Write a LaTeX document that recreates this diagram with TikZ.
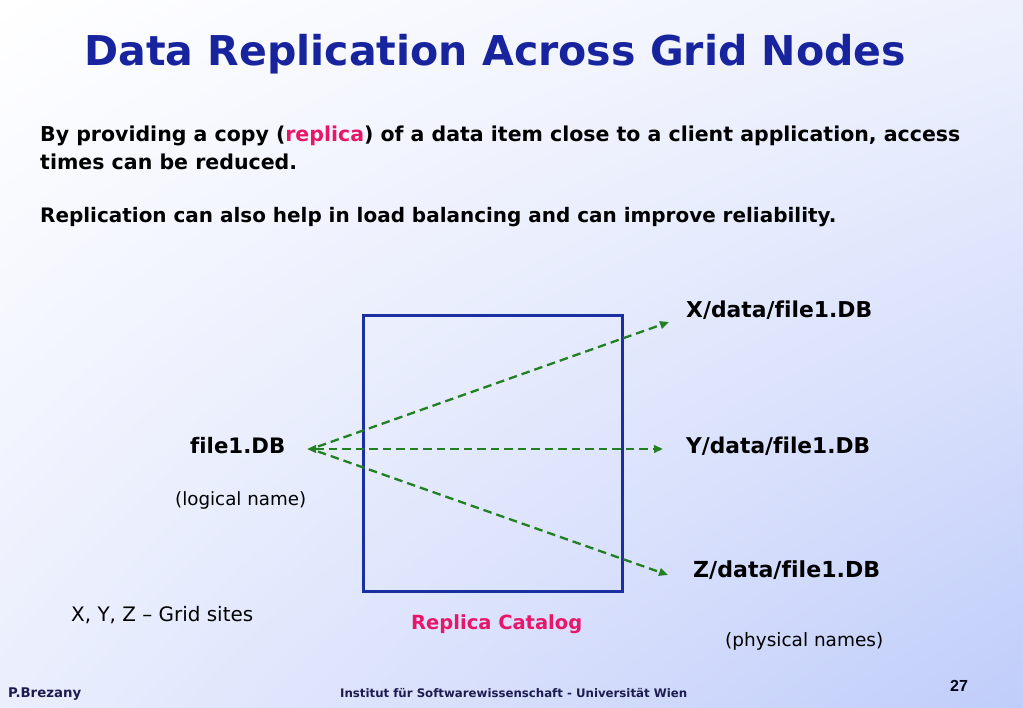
\documentclass[tikz,border=0pt]{standalone}
\usepackage{fontspec}
\setmainfont{DejaVu Sans}[Ligatures=NoCommon]
\newfontfamily\numfont{Liberation Sans}
\usetikzlibrary{arrows.meta,shadings}
\definecolor{titleblue}{RGB}{24,36,158}
\definecolor{boxblue}{RGB}{26,48,160}
\definecolor{pinkred}{RGB}{232,22,104}
\definecolor{dashgreen}{RGB}{34,128,34}
\definecolor{footnavy}{RGB}{28,28,80}
\definecolor{bgUR}{RGB}{238,241,253}
\definecolor{bgLL}{RGB}{234,238,253}
\definecolor{bgLR}{RGB}{192,205,250}
\newcommand\fitw[2]{\resizebox{#1}{!}{#2}}
\tikzset{
  txt/.style={inner sep=0pt, anchor=base west, text=black},
  bodytxt/.style={txt, font=\bfseries\fontsize{18bp}{22bp}\selectfont},
  lbl/.style={txt, font=\bfseries\fontsize{18bp}{22bp}\selectfont},
  note/.style={txt, font=\fontsize{17bp}{20bp}\selectfont},
  foot/.style={txt, text=footnavy, font=\bfseries\fontsize{10bp}{12bp}\selectfont},
  tip/.style={Triangle[length=9bp,width=7.5bp]},
  link/.style={draw=dashgreen, line width=2.3bp, dash pattern=on 8.5bp off 5bp,
    -{Triangle[length=9bp,width=7.5bp]}},
}
\begin{document}
\begin{tikzpicture}[x=1bp,y=-1bp]
\useasboundingbox (0,0) rectangle (1023,708);
\shade[upper left=white, upper right=bgUR, lower left=bgLL, lower right=bgLR]
  (0,0) rectangle (1023,708);
% title
\node[txt, text=titleblue, font=\bfseries\fontsize{40bp}{46bp}\selectfont] (title) at (84,66)
  {\fitw{822bp}{Data Replication Across Grid Nodes}};
% paragraphs
\node[bodytxt] (p1a) at (40,141.5)
  {\fitw{920bp}{By providing a copy (\textcolor{pinkred}{replica}) of a data item close to a client application, access}};
\node[bodytxt] (p1b) at (40,170)
  {\fitw{257bp}{times can be reduced.}};
\node[bodytxt] (p2) at (40,222)
  {\fitw{796bp}{Replication can also help in load balancing and can improve reliability.}};
% catalog box
\node[draw=boxblue, line width=2.5bp, inner sep=0pt, minimum width=259bp, minimum height=276bp,
  anchor=north west] (cat) at (362,314) {};
\node[txt, text=pinkred, font=\bfseries\fontsize{18bp}{22bp}\selectfont] (catlbl) at (411,629)
  {\fitw{171bp}{Replica Catalog}};
% logical
\node[lbl] (logical) at (190,453) {\fitw{95bp}{file1.DB}};
\node[note] (lognote) at (175,505) {\fitw{131bp}{(logical name)}};
% physical
\node[lbl] (px) at (686,317) {\fitw{186bp}{X/data/file1.DB}};
\node[lbl] (py) at (686,453) {\fitw{184bp}{Y/data/file1.DB}};
\node[lbl] (pz) at (693,577) {\fitw{187bp}{Z/data/file1.DB}};
\node[note] (physnote) at (725,646) {\fitw{158bp}{(physical names)}};
\node[note] (sites) at (71,621) {\fitw{182bp}{X, Y, Z \textendash{} Grid sites}};
% connectors
\coordinate (apex) at (307,449);
\coordinate (apexU) at (318,446.5);
\coordinate (apexD) at (318,451.5);
\coordinate (ex) at (669,322);
\coordinate (ey) at (663,449);
\coordinate (ez) at (668,575);
\draw[link, {Triangle[length=9bp,width=7.5bp]}-{Triangle[length=9bp,width=7.5bp]}] (apex) -- (ey);
\draw[link] (apexU) -- (ex);
\draw[link] (apexD) -- (ez);
% footer
\node[foot] (author) at (8,697) {\fitw{73bp}{P.Brezany}};
\node[foot] (inst) at (340,697) {\fitw{347bp}{Institut für Softwarewissenschaft - Universität Wien}};
\node[txt, font=\numfont\bfseries\fontsize{16bp}{18bp}\selectfont, text=black!90!blue] (page) at (950,691) {27};
\end{tikzpicture}
\end{document}
